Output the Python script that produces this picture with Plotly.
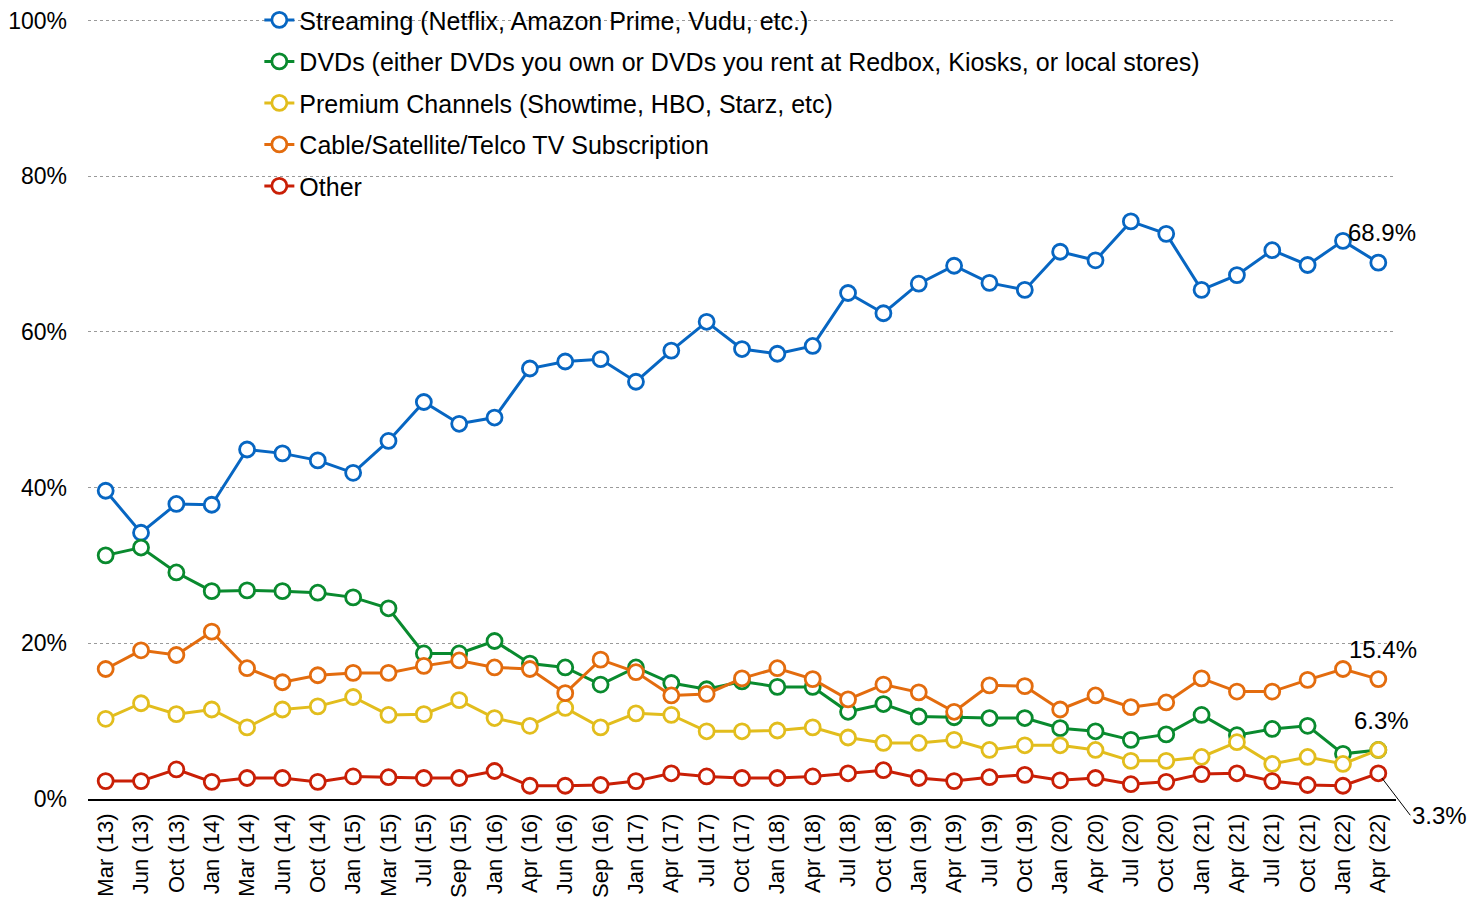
import plotly.graph_objects as go

# ===========================================================================
periods = ["Mar (13)", "Jun (13)", "Oct (13)", "Jan (14)", "Mar (14)", "Jun (14)", "Oct (14)",
           "Jan (15)", "Mar (15)", "Jul (15)", "Sep (15)", "Jan (16)", "Apr (16)", "Jun (16)",
           "Sep (16)", "Jan (17)", "Apr (17)", "Jul (17)", "Oct (17)", "Jan (18)", "Apr (18)",
           "Jul (18)", "Oct (18)", "Jan (19)", "Apr (19)", "Jul (19)", "Oct (19)", "Jan (20)",
           "Apr (20)", "Jul (20)", "Oct (20)", "Jan (21)", "Apr (21)", "Jul (21)", "Oct (21)",
           "Jan (22)", "Apr (22)"]

streaming = [39.6, 34.2, 37.9, 37.8, 44.9, 44.4, 43.5, 41.9, 46.0, 51.0, 48.2, 49.0, 55.3,
             56.2, 56.5, 53.6, 57.6, 61.3, 57.8, 57.2, 58.2, 65.0, 62.4, 66.2, 68.5, 66.3,
             65.4, 70.3, 69.2, 74.2, 72.6, 65.4, 67.3, 70.5, 68.6, 71.7, 68.9]
dvds = [31.3, 32.3, 29.1, 26.7, 26.8, 26.7, 26.5, 25.9, 24.5, 18.7, 18.7, 20.3, 17.4, 16.9,
        14.7, 16.9, 14.9, 14.1, 15.1, 14.4, 14.4, 11.2, 12.2, 10.6, 10.5, 10.4, 10.4, 9.1,
        8.7, 7.6, 8.3, 10.8, 8.2, 9.0, 9.4, 5.8, 6.3]
premium = [10.3, 12.3, 10.9, 11.5, 9.2, 11.5, 11.9, 13.1, 10.8, 10.9, 12.7, 10.4, 9.4, 11.7,
           9.2, 11.0, 10.8, 8.7, 8.7, 8.8, 9.2, 7.9, 7.2, 7.2, 7.6, 6.3, 6.9, 6.9, 6.3, 4.9,
           4.9, 5.4, 7.3, 4.5, 5.4, 4.5, 6.3]
cable = [16.7, 19.1, 18.5, 21.5, 16.8, 15.0, 15.9, 16.2, 16.2, 17.1, 17.8, 16.9, 16.7, 13.6,
         17.9, 16.3, 13.3, 13.5, 15.5, 16.8, 15.4, 12.8, 14.7, 13.7, 11.2, 14.6, 14.5, 11.5,
         13.3, 11.8, 12.4, 15.5, 13.8, 13.8, 15.3, 16.7, 15.4]
other = [2.3, 2.3, 3.8, 2.2, 2.7, 2.7, 2.2, 2.9, 2.8, 2.7, 2.7, 3.6, 1.7, 1.7, 1.8, 2.3, 3.3,
         2.9, 2.7, 2.7, 2.9, 3.3, 3.7, 2.7, 2.3, 2.8, 3.1, 2.4, 2.7, 1.9, 2.2, 3.2, 3.3, 2.3,
         1.8, 1.7, 3.3]

y_ticks = [0, 20, 40, 60, 80, 100]
y_tick_text = ["0%", "20%", "40%", "60%", "80%", "100%"]

series = [
    ("Streaming (Netflix, Amazon Prime, Vudu, etc.)", streaming, "#0766C2"),
    ("DVDs (either DVDs you own or DVDs you rent at Redbox, Kiosks, or local stores)", dvds, "#098A2E"),
    ("Premium Channels (Showtime, HBO, Starz, etc)", premium, "#E2BD1D"),
    ("Cable/Satellite/Telco TV Subscription", cable, "#E36C0E"),
    ("Other", other, "#C91F06"),
]

FONT = "Liberation Sans, Arial, sans-serif"

fig = go.Figure()
for i, (name, vals, color) in enumerate(series):
    fig.add_trace(go.Scatter(
        x=periods, y=vals, name=name, mode="lines+markers", legendgroup=f"g{i}",
        line=dict(color=color, width=3),
        marker=dict(size=15, color="white", line=dict(color=color, width=2.8)),
    ))

# end-point labels
last = periods[-1]
fig.add_annotation(x=last, y=streaming[-1], text="68.9%", showarrow=False,
                   xanchor="center", yanchor="bottom", xshift=4, yshift=15)
fig.add_annotation(x=last, y=cable[-1], text="15.4%", showarrow=False,
                   xanchor="center", yanchor="bottom", xshift=5, yshift=14)
fig.add_annotation(x=last, y=dvds[-1], text="6.3%", showarrow=False,
                   xanchor="center", yanchor="bottom", xshift=3, yshift=14)
fig.add_annotation(x=last, y=other[-1], text="3.3%", showarrow=True, arrowhead=0,
                   arrowwidth=1, arrowcolor="black", ax=32, ay=42,
                   xanchor="left", standoff=6)
fig.update_annotations(font=dict(family=FONT, size=24, color="black"))

# the page body adds an 8px offset, so the figure is drawn 8px smaller
fig.update_layout(
    width=1476, height=901,
    margin=dict(l=80, r=88, t=11, b=110, autoexpand=False),
    paper_bgcolor="white", plot_bgcolor="white",
    font=dict(family=FONT, size=20, color="black"),
    legend=dict(x=0.131, y=1.028, xanchor="left", yanchor="top",
                bgcolor="rgba(0,0,0,0)", tracegroupgap=6,
                font=dict(family=FONT, size=25, color="black"), itemwidth=30),
    showlegend=True,
)
fig.update_xaxes(
    type="category", range=[-0.5, 36.5], tickangle=-90, showgrid=False,
    showline=True, linecolor="black", linewidth=1.5, ticks="", automargin=False,
    tickfont=dict(family=FONT, size=22, color="black"), ticklabelstandoff=4,
)
fig.update_yaxes(
    range=[0, 100.2], tickvals=y_ticks, ticktext=y_tick_text, tickmode="array",
    showgrid=True, gridcolor="#9a9a9a", griddash="dot", gridwidth=1,
    zeroline=False, showline=False, ticks="", automargin=False,
    ticklabeloverflow="allow",
    tickfont=dict(family=FONT, size=23, color="black"), ticklabelstandoff=20,
)

fig.write_html("out.html")
